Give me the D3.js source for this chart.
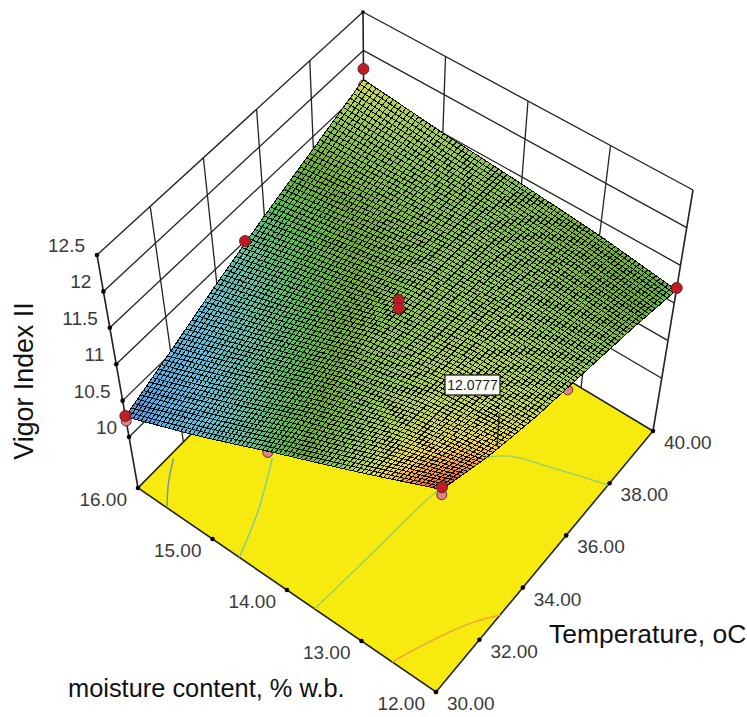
<!DOCTYPE html>
<html>
<head>
<meta charset="utf-8">
<script src="https://cdn.jsdelivr.net/npm/d3@7/dist/d3.min.js"></script>
<style>
html,body{margin:0;padding:0;background:#fff;}
text{font-family:"Liberation Sans",Arial,sans-serif;}
</style>
</head>
<body>
<svg id="chart" width="747" height="717"></svg>
<script>
// ---- data ----
const temperatureTicks = [30, 32, 34, 36, 38, 40];
const moistureTicks = [12, 13, 14, 15, 16];
const vigorTicks = [10, 10.5, 11, 11.5, 12, 12.5];
const temperatureLabels = ["30.00", "32.00", "34.00", "36.00", "38.00", "40.00"];
const moistureLabels = ["12.00", "13.00", "14.00", "15.00", "16.00"];
const vigorLabels = ["10", "10.5", "11", "11.5", "12", "12.5"];

// surface height at each (moisture row, temperature column)
const surfaceM12 = [12.0, 11.76, 11.59, 11.47, 11.34, 11.17];
const surfaceM13 = [11.57, 11.58, 11.56, 11.5, 11.42, 11.31];
const surfaceM14 = [11.15, 11.3, 11.42, 11.45, 11.44, 11.41];
const surfaceM15 = [10.7, 10.92, 11.1, 11.27, 11.4, 11.5];
const surfaceM16 = [10.28, 10.53, 10.81, 11.08, 11.34, 11.62];
const surfaceRows = [surfaceM12, surfaceM13, surfaceM14, surfaceM15, surfaceM16];

// design points above the surface
const redT = [30, 40, 40, 30, 35.2, 35, 35];
const redM = [16, 16, 12, 12, 16, 14, 14];
const redZ = [10.29, 11.76, 11.2, 12.03, 11.0, 11.53, 11.42];
// design points below the surface
const pinkT = [30, 35.3, 30, 30, 40];
const pinkM = [14.12, 12, 12, 16, 16];
const pinkZ = [11.08, 11.48, 11.93, 10.22, 11.55];

// floor contours
const contourColors = ["#f4a040", "#90d070", "#70c8b0", "#6090b8"];
const contourOrangeT = [30, 30.86, 31.62, 32.33, 32.95];
const contourOrangeM = [12.59, 12.46, 12.33, 12.18, 12];
const contourGreenT = [30, 32.4, 34.6, 34.94, 36.6, 37.1, 37.47, 37.93];
const contourGreenM = [13.63, 13.56, 13.5, 13.48, 13.32, 13.11, 12.66, 12];
const contourTealT = [30, 31.43, 33.13];
const contourTealM = [14.64, 14.83, 15.14];
const contourBlueT = [30, 30.65, 31.4];
const contourBlueM = [15.61, 15.79, 15.95];

// flagged point
const flagT = 32.3, flagM = 12, flagBaseZ = 11.78, flagTopZ = 12.2, flagText = "12.0777";

// surface colour ramp
const rampValues = [10.25, 10.45, 10.7, 10.95, 11.15, 11.3, 11.45, 11.6, 11.7, 11.82, 11.95];
const rampColors = ["#5a80cc", "#58aee8", "#5fc0dc", "#62c0a0", "#5cbc50", "#74b030", "#90c850", "#c8d850", "#f0d840", "#f89c38", "#e86030"];

// ---- layout ----
const svg = d3.select("#chart");
const cA = [436, 692], cB = [653, 431], cC = [138, 488], cD = [365, 258];   // floor corners
const tA = [443, 452], tB = [693, 190], tC = [97, 255], tD = [363, 12];     // top corners
const INK = "#222";

const scaleT = d3.scaleLinear().domain([30, 40]).range([0, 1]);
const scaleM = d3.scaleLinear().domain([12, 16]).range([0, 1]);
const scaleZ = d3.scaleLinear().domain([9.3, 12.5]).range([0, 1]);
const color = d3.scaleLinear().domain(rampValues).range(rampColors).clamp(true);

function bilinear(a, b, c, d, t, m, i) {
  return a[i] * (1 - t) * (1 - m) + b[i] * t * (1 - m) + c[i] * (1 - t) * m + d[i] * t * m;
}
function project(T, M, Z) {
  const t = scaleT(T), m = scaleM(M), f = scaleZ(Z);
  return [0, 1].map(i => {
    const lo = bilinear(cA, cB, cC, cD, t, m, i);
    const hi = bilinear(tA, tB, tC, tD, t, m, i);
    return lo + (hi - lo) * f;
  });
}
const zFloor = 9.3, zTop = 12.5;
const line = d3.line();
const smooth = d3.line().curve(d3.curveCatmullRom.alpha(0.5));

function seg(g, a, b, w) {
  g.append("path").attr("d", line([a, b])).attr("fill", "none")
    .attr("stroke", INK).attr("stroke-width", w || 1.3);
}

// ---- walls ----
const walls = svg.append("g");
vigorTicks.forEach(z => {
  seg(walls, project(30, 16, z), project(40, 16, z));
  seg(walls, project(40, 16, z), project(40, 12, z));
});
temperatureTicks.slice(1, -1).forEach(T => seg(walls, project(T, 16, zFloor), project(T, 16, zTop)));
moistureTicks.slice(1, -1).forEach(M => seg(walls, project(40, M, zFloor), project(40, M, zTop)));
seg(walls, project(30, 16, zFloor), project(30, 16, zTop), 1.6);
seg(walls, project(40, 16, zFloor), project(40, 16, zTop), 1.6);
seg(walls, project(40, 12, zFloor), project(40, 12, zTop), 1.6);

// ---- floor ----
svg.append("path")
  .attr("d", line([project(30, 12, zFloor), project(40, 12, zFloor), project(40, 16, zFloor), project(30, 16, zFloor)]) + "Z")
  .attr("fill", "#f6ea0e").attr("stroke", INK).attr("stroke-width", 1.6);

// contours
[[contourOrangeT, contourOrangeM], [contourGreenT, contourGreenM], [contourTealT, contourTealM], [contourBlueT, contourBlueM]]
  .forEach(([ts, ms], i) => {
    svg.append("path")
      .attr("d", smooth(ts.map((T, k) => project(T, ms[k], zFloor))))
      .attr("fill", "none").attr("stroke", contourColors[i]).attr("stroke-width", 1.3);
  });

// axis ticks
const tickG = svg.append("g").attr("fill", "#000");
const dot = (p, r) => tickG.append("circle").attr("cx", p[0]).attr("cy", p[1]).attr("r", r || 2.3);
temperatureTicks.forEach(T => dot(project(T, 12, zFloor)));
moistureTicks.forEach(M => dot(project(30, M, zFloor)));
vigorTicks.forEach(z => dot(project(30, 16, z)));
dot(project(40, 16, zTop), 1.8);

// pink points
function points(ts, ms, zs, fill, r) {
  svg.append("g").selectAll("circle").data(ts).join("circle")
    .attr("cx", (T, i) => project(T, ms[i], zs[i])[0])
    .attr("cy", (T, i) => project(T, ms[i], zs[i])[1])
    .attr("r", r).attr("fill", fill).attr("stroke", "#5a2020").attr("stroke-width", 0.9);
}
points(pinkT, pinkM, pinkZ, "#e08088", 5);

// ---- surface mesh ----
const N = 75;
function height(T, M) {
  const cx = Math.min((T - 30) / 2, 4.9999), cy = Math.min(M - 12, 3.9999);
  const i = Math.floor(cx), j = Math.floor(cy), u = cx - i, v = cy - j;
  return d3.interpolateNumber(
    d3.interpolateNumber(surfaceRows[j][i], surfaceRows[j][i + 1])(u),
    d3.interpolateNumber(surfaceRows[j + 1][i], surfaceRows[j + 1][i + 1])(u)
  )(v);
}
const meshT = d3.scaleLinear().domain([0, N]).range([30, 40]);
const meshM = d3.scaleLinear().domain([0, N]).range([12, 16]);
const cells = [];
d3.range(N).forEach(i => d3.range(N).forEach(j => cells.push([i, j])));
svg.append("g").attr("shape-rendering", "crispEdges").selectAll("path").data(cells).join("path")
  .attr("d", ([i, j]) => {
    const q = [[i, j], [i + 1, j], [i + 1, j + 1], [i, j + 1]].map(([a, b]) => {
      const T = meshT(a), M = meshM(b);
      return project(T, M, height(T, M));
    });
    return line(q) + "Z";
  })
  .attr("fill", ([i, j]) => color(height(meshT(i + .5), meshM(j + .5))))
  .attr("stroke", "#0c0c0c").attr("stroke-width", 1);

// flag line + label
seg(svg, project(flagT, flagM, flagBaseZ), project(flagT, flagM, flagTopZ), 1.4);
svg.append("rect").attr("x", 445).attr("y", 375).attr("width", 55).attr("height", 20)
  .attr("fill", "#fff").attr("stroke", "#111").attr("stroke-width", 1.2);
svg.append("text").attr("x", 472.5).attr("y", 390).attr("text-anchor", "middle")
  .attr("font-size", 14).attr("fill", "#222").text(flagText);

// red points
points(redT, redM, redZ, "#c01c24", 5.5);

// ---- text ----
const tickStyle = s => s.attr("font-size", 19).attr("fill", "#3a3a3a");
vigorTicks.forEach((z, i) => {
  const p = project(30, 16, z);
  svg.append("text").attr("x", p[0] - 12).attr("y", p[1] - 3).attr("text-anchor", "end").call(tickStyle).text(vigorLabels[i]);
});
moistureTicks.forEach((M, i) => {
  const p = project(30, M, zFloor);
  svg.append("text").attr("x", p[0] - 11).attr("y", p[1] + 18).attr("text-anchor", "end").call(tickStyle).text(moistureLabels[i]);
});
temperatureTicks.forEach((T, i) => {
  const p = project(T, 12, zFloor);
  svg.append("text").attr("x", p[0] + 11).attr("y", p[1] + 18).attr("text-anchor", "start").call(tickStyle).text(temperatureLabels[i]);
});
svg.append("text").attr("x", 549).attr("y", 643).attr("font-size", 26.5).attr("fill", "#111").text("Temperature, oC");
svg.append("text").attr("x", 68).attr("y", 697).attr("font-size", 25.4).attr("fill", "#111").text("moisture content, % w.b.");
svg.append("text").attr("transform", "translate(33,381) rotate(-90)").attr("text-anchor", "middle")
  .attr("font-size", 26.8).attr("fill", "#111").text("Vigor Index II");
</script>
</body>
</html>
